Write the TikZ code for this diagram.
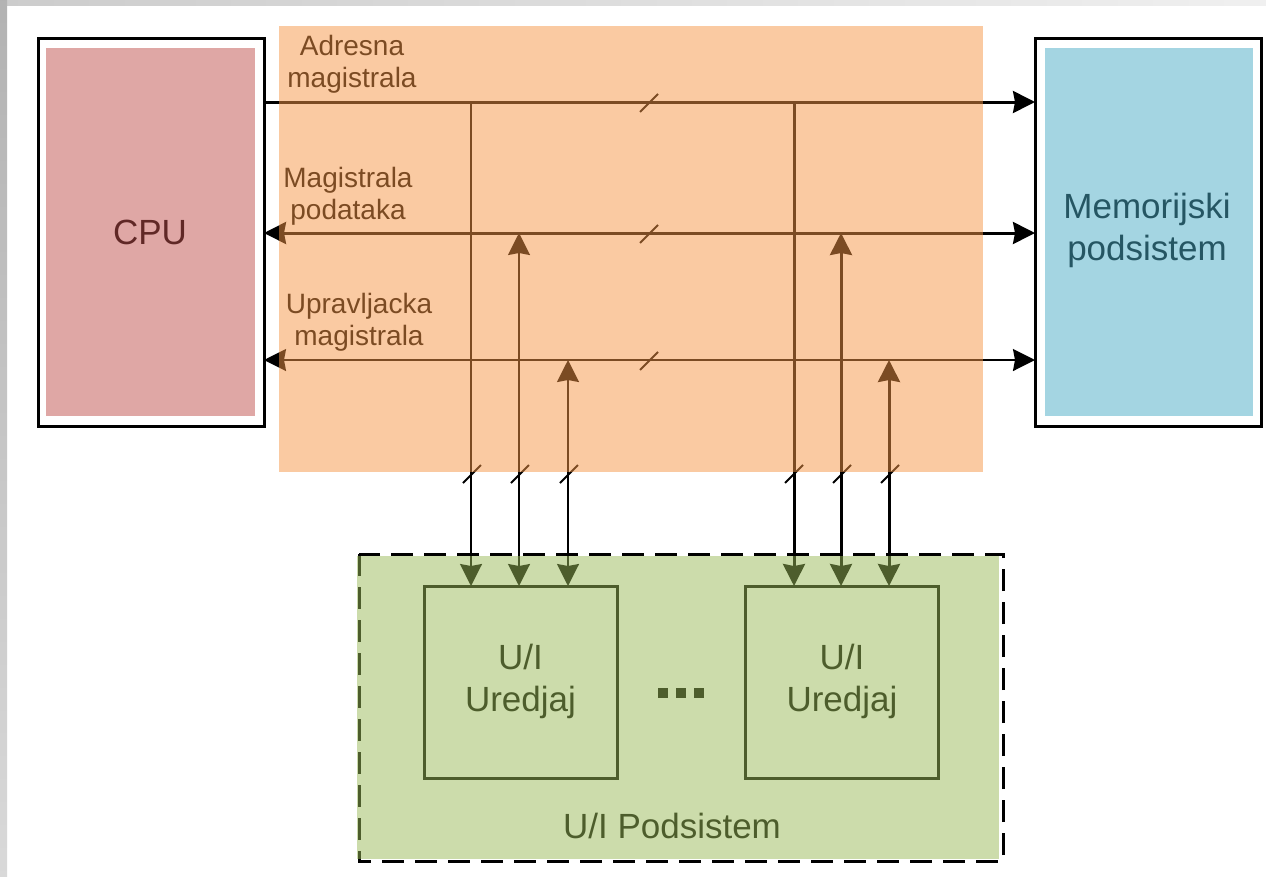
\documentclass[tikz,border=0pt]{standalone}
\usepackage{fontspec}
\setmainfont{Liberation Sans}
\usetikzlibrary{arrows.meta}
\definecolor{cred}{HTML}{C0504D}
\definecolor{cblue}{HTML}{4BACC6}
\definecolor{corange}{HTML}{F79646}
\definecolor{cgreen}{HTML}{9BBB59}
\begin{document}
\begin{tikzpicture}[x=1pt,y=-1pt,
  bigbox/.style={draw, line width=3pt, minimum width=226pt, minimum height=388pt, outer sep=0pt, inner sep=0pt},
  devbox/.style={draw, line width=3pt, minimum width=193pt, minimum height=192pt, outer sep=0pt, inner sep=0pt},
  bigtext/.style={font=\fontsize{35}{42}\selectfont, align=center, inner sep=0pt},
  lbl/.style={font=\fontsize{28}{32}\selectfont, align=center, inner sep=0pt},
  thickbus/.style={line width=3pt},
  thinbus/.style={line width=2pt},
  tipend/.style={-{Stealth[length=22pt,width=22pt,inset=2pt]}},
  tipboth/.style={{Stealth[length=22pt,width=22pt,inset=2pt]}-{Stealth[length=22pt,width=22pt,inset=2pt]}},
  slash/.style={line width=2pt},
  overlay/.style={fill opacity=0.5, draw=none}
]
\useasboundingbox (0,0) rectangle (1266,876);
\fill[white] (0,0) rectangle (1266,876);
% slide background edges
\shade[left color=black!20, right color=black!6] (0,0) rectangle (1266,5);
\shade[top color=black!30, bottom color=black!15] (0,0) rectangle (7,876);

% main boxes
\node[bigbox] (cpu) at (151,232) {};
\node[bigbox] (mem) at (1148,232) {};
\node[bigtext] (cputxt) at (150,232) {CPU};
\node[bigtext] (memtxt) at (1147,230) {Memorijski\\podsistem};

% device boxes
\node[devbox] (dev1) at (520.5,682) {};
\node[devbox] (dev2) at (842,682) {};
\node[bigtext] (dev1txt) at (520.5,681) {U/I\\Uredjaj};
\node[bigtext] (dev2txt) at (842,681) {U/I\\Uredjaj};
\node[bigtext] (systxt) at (672,826) {U/I Podsistem};
\fill (658,688) rectangle ++(10,10);
\fill (676,688) rectangle ++(10,10);
\fill (694,688) rectangle ++(10,10);

% bus labels
\node[lbl] (la) at (352,64) {Adresna\\magistrala};
\node[lbl] (ld) at (348,196) {Magistrala\\podataka};
\node[lbl] (lc) at (359,322) {Upravljacka\\magistrala};

% bus coordinates
\coordinate (ca) at (cpu.east |- 0,102);
\coordinate (ma) at (mem.west |- 0,102);
\coordinate (cd) at (cpu.east |- 0,233);
\coordinate (md) at (mem.west |- 0,233);
\coordinate (cc) at (cpu.east |- 0,360);
\coordinate (mc) at (mem.west |- 0,360);

\draw[thickbus,tipend] (ca) -- (ma);
\draw[thickbus,tipboth] (cd) -- (md);
\draw[thinbus,tipboth] (cc) -- (mc);

% taps
\coordinate (t1) at (471,102);
\coordinate (t2) at (519,233);
\coordinate (t3) at (568,360);
\coordinate (t4) at (794,102);
\coordinate (t5) at (841,233);
\coordinate (t6) at (889,360);

\draw[thinbus,tipend] (t1) -- (t1 |- dev1.north);
\draw[thinbus,tipboth] (t2) -- (t2 |- dev1.north);
\draw[thinbus,tipboth] (t3) -- (t3 |- dev1.north);
\draw[thickbus,tipend] (t4) -- (t4 |- dev2.north);
\draw[thickbus,tipboth] (t5) -- (t5 |- dev2.north);
\draw[thickbus,tipboth] (t6) -- (t6 |- dev2.north);

% slashes on buses
\foreach \y in {103,234,361}{
  \draw[slash] (640,\y+9) -- ++(18,-18);
}
% slashes on verticals
\foreach \x in {472,520,569,794,842,890}{
  \draw[slash] (\x-9,483) -- ++(18,-18);
}

% dashed subsystem border
\draw[line width=3pt, dash pattern=on 22pt off 11pt] (359,554) rectangle (1003,861);

% translucent overlays
\fill[cred, overlay] (46,48) rectangle (255,416);
\fill[cblue, overlay] (1045,48) rectangle (1253,416);
\fill[corange, overlay] (279,26) rectangle (983,472);
\fill[cgreen, overlay] (357,556) rectangle (999,859);
\end{tikzpicture}
\end{document}
